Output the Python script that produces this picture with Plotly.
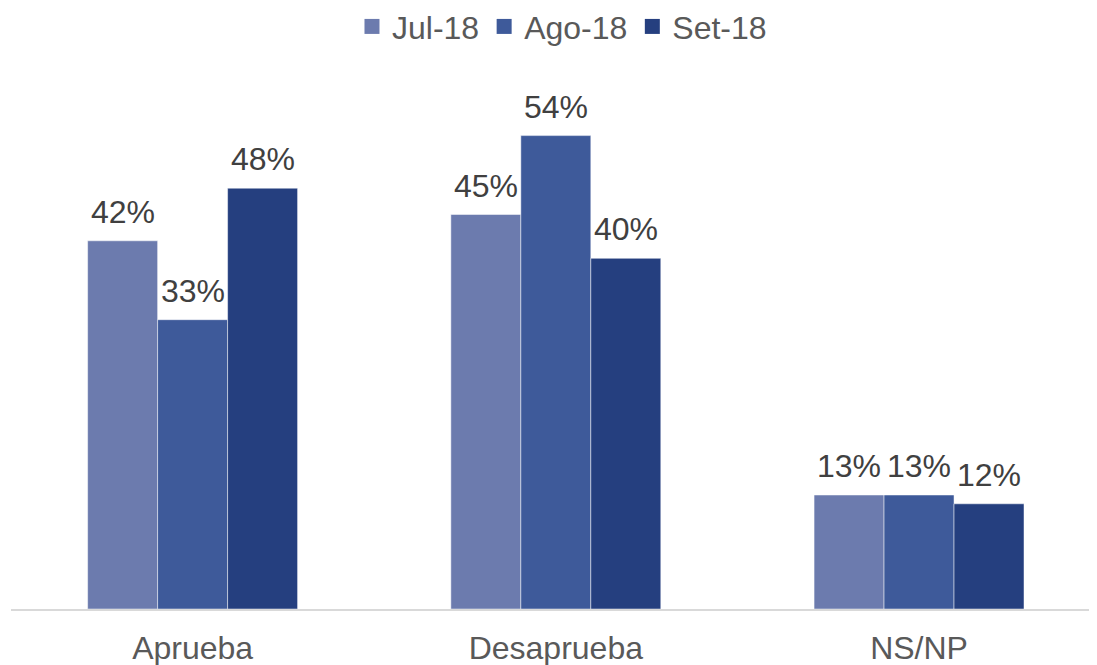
import plotly.graph_objects as go

categorias = ["Aprueba", "Desaprueba", "NS/NP"]
series = ["Jul-18", "Ago-18", "Set-18"]
jul_18 = [42, 45, 13]
ago_18 = [33, 54, 13]
set_18 = [48, 40, 12]

colores = ["#6C7BAE", "#3E5A9A", "#253F7F"]
fuente = "Liberation Sans, Arial, sans-serif"

fig = go.Figure()
for nombre, valores, color in zip(series, [jul_18, ago_18, set_18], colores):
    fig.add_trace(go.Bar(
        x=categorias,
        y=valores,
        name=nombre,
        showlegend=False,
        marker=dict(color=color, line=dict(color="rgba(255,255,255,0.6)", width=0.8)),
    ))

# leyenda con cuadrados más grandes (trazas vacías solo para la leyenda)
for nombre, color in zip(series, colores):
    fig.add_trace(go.Scatter(
        x=[None], y=[None], mode="markers", name=nombre,
        marker=dict(symbol="square", size=15, color=color),
    ))

# etiquetas de datos, separadas un poco de la barra como en el original
ancho_barra = 70
for i, valores in enumerate([jul_18, ago_18, set_18]):
    for cat, v in zip(categorias, valores):
        fig.add_annotation(
            x=cat, y=v, text=f"{v}%",
            xshift=(i - 1) * ancho_barra, yshift=9,
            yanchor="bottom", showarrow=False,
            font=dict(size=32, color="#404040", family=fuente),
        )

fig.update_layout(
    width=1097,
    height=665,
    barmode="group",
    bargap=0.422,
    bargroupgap=0,
    plot_bgcolor="white",
    paper_bgcolor="white",
    margin=dict(l=3, r=0, t=75, b=64),
    font=dict(family=fuente, size=32, color="#595959"),
    legend=dict(
        orientation="h",
        x=0.505, xanchor="center", xref="container",
        y=0.972, yanchor="middle", yref="container",
        font=dict(size=32, color="#595959"),
        itemwidth=30,
        traceorder="normal",
    ),
    xaxis=dict(
        range=[-0.5, 2.512],
        showline=True,
        linecolor="#D9D9D9",
        linewidth=1.5,
        ticks="",
        ticklabelstandoff=10,
        tickfont=dict(size=32, color="#595959"),
        showgrid=False,
    ),
    yaxis=dict(
        range=[0, 60],
        visible=False,
        showgrid=False,
    ),
)

fig.write_html("out.html")
